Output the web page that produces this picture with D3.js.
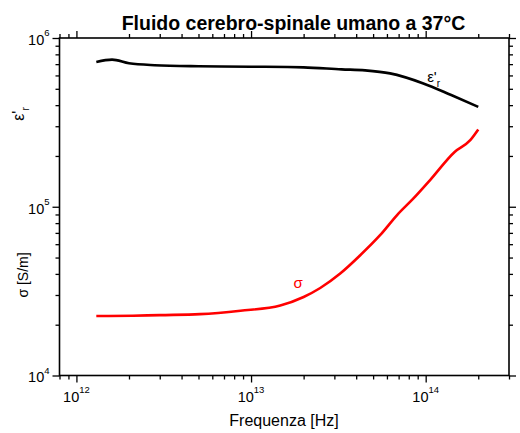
<!DOCTYPE html>
<html><head><meta charset="utf-8">
<script src="https://cdn.jsdelivr.net/npm/d3@7"></script>
<style>body{margin:0;background:#fff}svg{display:block}text{font-family:"Liberation Sans",Arial,sans-serif}</style>
</head><body>
<script>
const titleText = "Fluido cerebro-spinale umano a 37°C";
const xLabel = "Frequenza [Hz]";
const xMajorTicks = [1e12, 1e13, 1e14];
const yMajorTicks = [1e4, 1e5, 1e6];
const xTickExp = ["12", "13", "14"];
const yTickExp = ["4", "5", "6"];

const epsFreq = [1.3e12, 1.6e12, 2.0e12, 2.8e12, 5e12, 1e13, 2e13, 3.3e13, 4.5e13, 6.25e13, 9.7e13, 1.4e14, 2.0e14];
const epsVal  = [7.21e5, 7.44e5, 7.08e5, 6.9e5, 6.8e5, 6.76e5, 6.7e5, 6.52e5, 6.43e5, 6.17e5, 5.38e5, 4.59e5, 3.91e5];

const sigFreq = [1.3e12, 2.1e12, 3e12, 5.1e12, 8.7e12, 1.47e13, 2.0e13, 2.49e13, 3.24e13, 4.22e13, 5.48e13, 6.84e13, 8.51e13, 1.06e14, 1.47e14, 1.8e14, 2.0e14];
const sigVal  = [2.25e4, 2.26e4, 2.28e4, 2.31e4, 2.42e4, 2.60e4, 2.92e4, 3.30e4, 4.02e4, 5.16e4, 6.78e4, 8.9e4, 1.12e5, 1.44e5, 2.12e5, 2.48e5, 2.87e5];

const W = 520, H = 433;
const L = 59.5, R = 509, T = 38, B = 375.5;
const svg = d3.select("body").append("svg").attr("width", W).attr("height", H);

const x = d3.scaleLog().domain([8e11, 3e14]).range([L, R]);
const y = d3.scaleLog().domain([1e4, 1e6]).range([B, T]);

function minors(dom) {
  const out = [];
  for (let e = Math.floor(Math.log10(dom[0])); e <= Math.ceil(Math.log10(dom[1])); e++) {
    for (let k = 2; k <= 9; k++) {
      const v = k * Math.pow(10, e);
      if (v >= dom[0] && v <= dom[1]) out.push(v);
    }
  }
  return out;
}
const xMinor = minors(x.domain());
const yMinor = minors(y.domain());

function styleAxis(g) {
  g.select(".domain").remove();
  g.selectAll("line").attr("stroke", "#000").attr("stroke-width", 1.3);
}
// bottom
svg.append("g").attr("transform", `translate(0,${B})`).call(d3.axisBottom(x).tickValues(xMajorTicks).tickSize(7).tickFormat("")).call(styleAxis);
svg.append("g").attr("transform", `translate(0,${B})`).call(d3.axisBottom(x).tickValues(xMinor).tickSize(4).tickFormat("")).call(styleAxis);
// top
svg.append("g").attr("transform", `translate(0,${T})`).call(d3.axisTop(x).tickValues(xMajorTicks).tickSize(7).tickFormat("")).call(styleAxis);
svg.append("g").attr("transform", `translate(0,${T})`).call(d3.axisTop(x).tickValues(xMinor).tickSize(4).tickFormat("")).call(styleAxis);
// left
svg.append("g").attr("transform", `translate(${L},0)`).call(d3.axisLeft(y).tickValues(yMajorTicks).tickSize(7).tickFormat("")).call(styleAxis);
svg.append("g").attr("transform", `translate(${L},0)`).call(d3.axisLeft(y).tickValues(yMinor).tickSize(4).tickFormat("")).call(styleAxis);
// right
svg.append("g").attr("transform", `translate(${R},0)`).call(d3.axisRight(y).tickValues(yMajorTicks).tickSize(7).tickFormat("")).call(styleAxis);
svg.append("g").attr("transform", `translate(${R},0)`).call(d3.axisRight(y).tickValues(yMinor).tickSize(4).tickFormat("")).call(styleAxis);

svg.append("rect").attr("x", L).attr("y", T).attr("width", R - L).attr("height", B - T)
  .attr("fill", "none").attr("stroke", "#000").attr("stroke-width", 1.6);

// tick labels
xMajorTicks.forEach((v, i) => {
  const t = svg.append("text").attr("x", x(v)).attr("y", B + 26).attr("text-anchor", "middle").attr("font-size", 14.5);
  t.append("tspan").text("10");
  t.append("tspan").attr("font-size", 9.5).attr("dy", -8.5).text(xTickExp[i]);
});
yMajorTicks.forEach((v, i) => {
  const t = svg.append("text").attr("x", L - 10).attr("y", y(v) + 6.8).attr("text-anchor", "end").attr("font-size", 14.5);
  t.append("tspan").text("10");
  t.append("tspan").attr("font-size", 9.5).attr("dy", -8.5).text(yTickExp[i]);
});

// title
svg.append("text").attr("x", 293.5).attr("y", 29.5).attr("text-anchor", "middle")
  .attr("font-size", 19.5).attr("font-weight", "bold").text(titleText);

// x label
svg.append("text").attr("x", 284).attr("y", 426).attr("text-anchor", "middle").attr("font-size", 16).text(xLabel);

// y labels
const yl1 = svg.append("text").attr("transform", `translate(24,114) rotate(-90)`).attr("text-anchor", "middle").attr("font-size", 16);
yl1.append("tspan").text("ε'");
yl1.append("tspan").attr("font-size", 10).attr("dy", 5).text("r");
svg.append("text").attr("transform", `translate(28,275) rotate(-90)`).attr("text-anchor", "middle").attr("font-size", 14).text("σ [S/m]");

// lines
const line = d3.line().x(d => x(d[0])).y(d => y(d[1])).curve(d3.curveMonotoneX);
svg.append("path").datum(d3.zip(epsFreq, epsVal)).attr("d", line)
  .attr("fill", "none").attr("stroke", "#000").attr("stroke-width", 2.6);
svg.append("path").datum(d3.zip(sigFreq, sigVal)).attr("d", line)
  .attr("fill", "none").attr("stroke", "#ff0000").attr("stroke-width", 2.6);

// curve labels
const el = svg.append("text").attr("x", x(1.02e14)).attr("y", y(5.48e5)).attr("font-size", 15).attr("fill", "#000");
el.append("tspan").text("ε'");
el.append("tspan").attr("font-size", 10).attr("dy", 5).text("r");
svg.append("text").attr("x", x(1.75e13)).attr("y", y(3.28e4)).attr("font-size", 15).attr("fill", "#ff0000").text("σ");
</script>
</body></html>
